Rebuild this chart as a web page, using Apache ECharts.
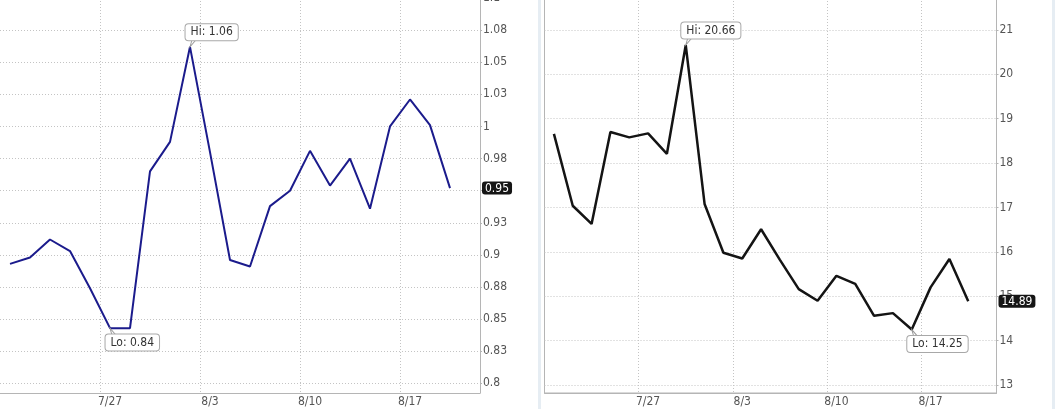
<!DOCTYPE html>
<html>
<head>
<meta charset="utf-8">
<script src="https://cdn.jsdelivr.net/npm/echarts@6/dist/echarts.min.js"></script>
<style>
html,body{margin:0;padding:0;background:#fff;}
#chart{width:1057px;height:409px;}
</style>
</head>
<body>
<div id="chart"></div>
<script>
// ---- data ----
const categories = ['7/20','7/21','7/22','7/23','7/24','7/27','7/28','7/29','7/30','7/31',
  '8/3','8/4','8/5','8/6','8/7','8/10','8/11','8/12','8/13','8/14','8/17','8/18','8/19','8/20'];
const weekLabels = ['7/27','8/3','8/10','8/17'];
const leftValues = [0.893,0.898,0.912,0.903,0.874,0.843,0.843,0.965,0.988,1.062,0.980,0.896,0.891,
  0.938,0.950,0.981,0.954,0.975,0.936,1.000,1.021,1.001,0.952,null];
const rightValues = [18.66,17.04,16.63,18.70,18.58,18.67,18.21,20.66,17.08,15.98,15.85,16.51,15.82,
  15.16,14.90,15.46,15.28,14.56,14.62,14.25,15.20,15.84,14.89,null];
const leftTicks = [0.8,0.825,0.85,0.875,0.9,0.925,0.95,0.975,1,1.025,1.05,1.075,1.1];
const leftTickLabels = ['0.8','0.83','0.85','0.88','0.9','0.93','0.95','0.98','1','1.03','1.05','1.08','1.1'];
const rightTicks = [13,14,15,16,17,18,19,20,21];
const rightTickLabels = ['13','14','15','16','17','18','19','20','21'];

const FONT = "'Liberation Sans Narrow','DejaVu Sans Condensed','Liberation Sans',sans-serif";
const labelColor = '#555';
const axisColor = '#b5b5b5';
const gridColor = '#c4c4c4';

function tickLabel(ticks, labels) {
  return function (v) {
    const i = ticks.findIndex(t => Math.abs(t - v) < 1e-6);
    return i >= 0 ? labels[i] : '';
  };
}
const isWeek = (idx, val) => weekLabels.indexOf(val) >= 0;

function xAxisCfg(gridIndex) {
  return {
    type: 'category', gridIndex, data: categories, boundaryGap: true,
    axisLine: { show: true, lineStyle: { color: axisColor, width: 1 } },
    axisTick: { show: false, interval: isWeek },
    axisLabel: { interval: isWeek, color: labelColor, fontSize: 12, fontFamily: FONT, margin: 3 },
    splitLine: { show: true, interval: isWeek, lineStyle: { color: gridColor, type: [1, 2], width: 1 } }
  };
}

function yAxisCfg(gridIndex, min, max, ticks, labels, last, digits) {
  return {
    type: 'value', gridIndex, position: 'right', min, max, scale: true,
    axisLine: { show: true, lineStyle: { color: axisColor, width: 1 } },
    axisTick: { show: true, length: 2, customValues: ticks, lineStyle: { color: axisColor } },
    axisLabel: { customValues: ticks, formatter: tickLabel(ticks, labels), color: labelColor,
      fontSize: 12, fontFamily: FONT, margin: 3 },
    splitLine: { show: true, lineStyle: { color: gridColor, type: [1, 2], width: 1 } },
    axisPointer: {
      show: true, type: 'line', value: last, status: 'show', snap: false,
      triggerTooltip: false, lineStyle: { opacity: 0, width: 0 },
      label: { show: true, formatter: p => Number(p.value).toFixed(digits),
        backgroundColor: '#151515', color: '#fff', padding: [1, 3, 0, 3], borderRadius: 3,
        fontSize: 12, lineHeight: 12, fontFamily: FONT, margin: 2 }
    }
  };
}

function hiLo(values, digits) {
  const valid = values.filter(v => v != null);
  const hi = Math.max.apply(null, valid), lo = Math.min.apply(null, valid);
  const hiIdx = values.indexOf(hi), loIdx = values.indexOf(lo);
  return {
    silent: true, animation: false,
    itemStyle: { color: '#fff', borderColor: '#999', borderWidth: 1 },
    label: { show: true, color: '#333', fontSize: 12, lineHeight: 12, fontFamily: FONT,
      backgroundColor: '#fff', borderColor: '#a8a8a8', borderWidth: 1, borderRadius: 3, padding: [2, 5] },
    data: [
      { coord: [categories[hiIdx], hi], value: hi,
        symbol: 'path://M0,7 L2,0 L6,0 Z', symbolSize: [6, 7], symbolOffset: [3, -3.5],
        label: { position: [-4, -15], formatter: 'Hi: ' + hi.toFixed(digits) } },
      { coord: [categories[loIdx], lo], value: lo,
        symbol: 'path://M0,0 L2,7 L6,7 Z', symbolSize: [6, 7], symbolOffset: [3, 3.5],
        label: { position: [-4, 7], formatter: 'Lo: ' + lo.toFixed(digits) } }
    ]
  };
}

const lastOf = arr => arr.filter(v => v != null).slice(-1)[0];

const chart = echarts.init(document.getElementById('chart'), null, { renderer: 'canvas' });
chart.setOption({
  animation: false,
  backgroundColor: '#fff',
  graphic: [
    { type: 'rect', silent: true, shape: { x: 538, y: 0, width: 3, height: 409 }, style: { fill: '#e6edf3' } },
    { type: 'rect', silent: true, shape: { x: 1052, y: 0, width: 3, height: 409 }, style: { fill: '#e6edf3' } }
  ],
  grid: [
    { left: 0, top: -2, width: 480, height: 395, outerBoundsMode: 'none', containLabel: false },
    { left: 544.5, top: -2, width: 452, height: 395, outerBoundsMode: 'none', containLabel: false,
      show: true, borderColor: axisColor, borderWidth: 1 }
  ],
  xAxis: [xAxisCfg(0), xAxisCfg(1)],
  yAxis: [
    yAxisCfg(0, 0.7925, 1.1, leftTicks, leftTickLabels, lastOf(leftValues), 2),
    yAxisCfg(1, 12.82, 21.721, rightTicks, rightTickLabels, lastOf(rightValues), 2)
  ],
  series: [
    { type: 'line', xAxisIndex: 0, yAxisIndex: 0, data: leftValues, symbol: 'none',
      lineStyle: { color: '#1b1b8c', width: 2 }, itemStyle: { color: '#1b1b8c' },
      markPoint: hiLo(leftValues, 2) },
    { type: 'line', xAxisIndex: 1, yAxisIndex: 1, data: rightValues, symbol: 'none',
      lineStyle: { color: '#141414', width: 2.5 }, itemStyle: { color: '#141414' },
      markPoint: hiLo(rightValues, 2) }
  ]
});
</script>
</body>
</html>
